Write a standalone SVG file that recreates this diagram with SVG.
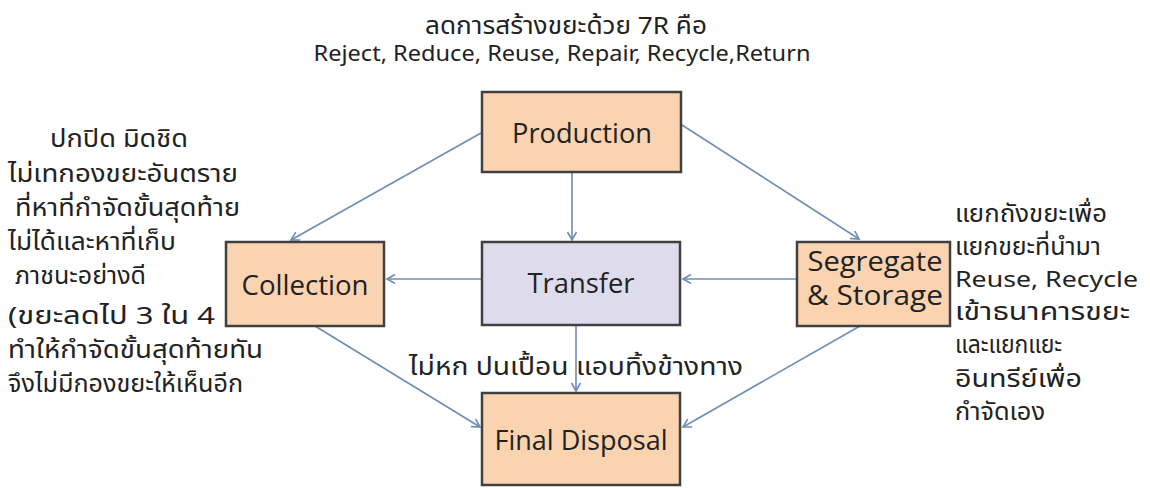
<svg xmlns="http://www.w3.org/2000/svg" width="1150" height="488" viewBox="0 0 1150 488">
<style>
.box{stroke:#404040;stroke-width:2.5}
.peach{fill:#fad3b1}
.lav{fill:#dedcec}
.lbl{font-family:"Open Sans","Noto Sans",sans-serif;font-size:27px;fill:#222}
.th{font-family:"Noto Sans","Noto Sans Thai","Noto Sans CJK SC",sans-serif;font-size:24px;fill:#222}
.lat{font-size:21px}
.conn{stroke:#6f8db5;stroke-width:1.6;fill:none;marker-end:url(#ah)}
</style>
<defs>
<marker id="ah" markerWidth="12" markerHeight="12" refX="9" refY="5" orient="auto" markerUnits="userSpaceOnUse">
<path d="M1,0.5 L9,5 L1,9.5" fill="none" stroke="#6f8db5" stroke-width="1.6"/>
</marker>
</defs>
<rect width="1150" height="488" fill="#ffffff"/>

<g id="connectors">
<line class="conn" x1="481" y1="133" x2="291" y2="240"/>
<line class="conn" x1="572" y1="173" x2="572" y2="240"/>
<line class="conn" x1="682" y1="125" x2="859" y2="239"/>
<line class="conn" x1="796" y1="279" x2="683" y2="279"/>
<line class="conn" x1="481" y1="279" x2="387" y2="279"/>
<line class="conn" x1="576" y1="326" x2="576" y2="391"/>
<line class="conn" x1="315" y1="326" x2="480" y2="427"/>
<line class="conn" x1="860" y1="326" x2="683" y2="427"/>
</g>

<g id="production">
<rect class="box peach" x="482" y="92" width="199" height="80"/>
<text class="lbl" x="582" y="143" text-anchor="middle" textLength="140" lengthAdjust="spacingAndGlyphs">Production</text>
</g>
<g id="transfer">
<rect class="box lav" x="482" y="242" width="198" height="83"/>
<text class="lbl" x="581" y="293" text-anchor="middle" textLength="107" lengthAdjust="spacingAndGlyphs">Transfer</text>
</g>
<g id="collection">
<rect class="box peach" x="226" y="242" width="158" height="84"/>
<text class="lbl" x="305" y="295" text-anchor="middle" textLength="127" lengthAdjust="spacingAndGlyphs">Collection</text>
</g>
<g id="segregate">
<rect class="box peach" x="797" y="242" width="153" height="84"/>
<text class="lbl" x="875" y="271" text-anchor="middle" textLength="135" lengthAdjust="spacingAndGlyphs">Segregate</text>
<text class="lbl" x="875" y="305" text-anchor="middle" textLength="136" lengthAdjust="spacingAndGlyphs">&amp; Storage</text>
</g>
<g id="final-disposal">
<rect class="box peach" x="482" y="393" width="198" height="92"/>
<text class="lbl" x="581" y="450" text-anchor="middle" textLength="173" lengthAdjust="spacingAndGlyphs">Final Disposal</text>
</g>

<g id="top-note">
<text class="th" x="566" y="34" text-anchor="middle" textLength="282" lengthAdjust="spacingAndGlyphs">ลดการสร้างขยะด้วย 7R คือ</text>
<text class="th lat" x="562" y="61" text-anchor="middle" textLength="497" lengthAdjust="spacingAndGlyphs">Reject, Reduce, Reuse, Repair, Recycle,Return</text>
</g>

<g id="left-note" class="th">
<text x="50" y="147" textLength="138" lengthAdjust="spacingAndGlyphs">ปกปิด มิดชิด</text>
<text x="8" y="182" textLength="230" lengthAdjust="spacingAndGlyphs">ไม่เทกองขยะอันตราย</text>
<text x="15" y="216" textLength="225" lengthAdjust="spacingAndGlyphs">ที่หาที่กำจัดขั้นสุดท้าย</text>
<text x="8" y="250" textLength="168" lengthAdjust="spacingAndGlyphs">ไม่ได้และหาที่เก็บ</text>
<text x="15" y="284" textLength="131" lengthAdjust="spacingAndGlyphs">ภาชนะอย่างดี</text>
<text x="8" y="324" textLength="207" lengthAdjust="spacingAndGlyphs">(ขยะลดไป 3 ใน 4</text>
<text x="8" y="358" textLength="255" lengthAdjust="spacingAndGlyphs">ทำให้กำจัดขั้นสุดท้ายทัน</text>
<text x="8" y="392" textLength="235" lengthAdjust="spacingAndGlyphs">จึงไม่มีกองขยะให้เห็นอีก</text>
</g>

<g id="middle-note">
<text class="th" x="409" y="375" textLength="334" lengthAdjust="spacingAndGlyphs">ไม่หก ปนเปื้อน แอบทิ้งข้างทาง</text>
</g>

<g id="right-note" class="th">
<text x="955" y="222" textLength="152" lengthAdjust="spacingAndGlyphs">แยกถังขยะเพื่อ</text>
<text x="955" y="255" textLength="146" lengthAdjust="spacingAndGlyphs">แยกขยะที่นำมา</text>
<text class="lat" x="955" y="287" textLength="183" lengthAdjust="spacingAndGlyphs">Reuse, Recycle</text>
<text x="955" y="320" textLength="175" lengthAdjust="spacingAndGlyphs">เข้าธนาคารขยะ</text>
<text x="955" y="353" textLength="107" lengthAdjust="spacingAndGlyphs">และแยกแยะ</text>
<text x="955" y="387" textLength="127" lengthAdjust="spacingAndGlyphs">อินทรีย์เพื่อ</text>
<text x="955" y="420" textLength="90" lengthAdjust="spacingAndGlyphs">กำจัดเอง</text>
</g>
</svg>
